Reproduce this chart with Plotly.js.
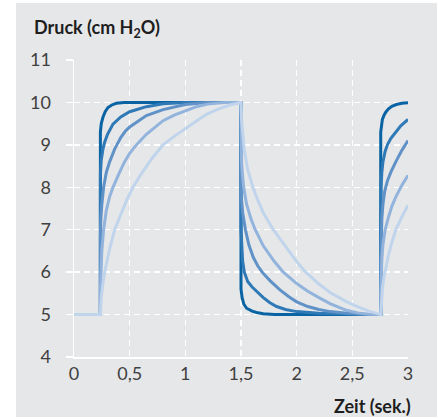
<!DOCTYPE html>
<html>
<head>
<meta charset="utf-8">
<script src="https://cdn.plot.ly/plotly-3.0.1.min.js"></script>
<style>
  html, body { margin: 0; padding: 0; background: #ffffff; }
  #chart { position: absolute; left: 16px; top: 3px; width: 421px; height: 414px; }
</style>
</head>
<body>
<div id="chart"></div>
<script>
// Time (s) and pressure (cm H2O), one pair of arrays per curve
var t1 = [0, 0.237, 0.237, 0.245, 0.26, 0.28, 0.305, 0.34, 0.38, 0.45, 1.5,
          1.5, 1.51, 1.525, 1.55, 1.6, 1.64, 1.7, 1.8, 2.755,
          2.755, 2.76, 2.77, 2.785, 2.8, 2.825, 2.855, 2.895, 2.945, 3.0];
var p1 = [5, 5, 9.3, 9.5, 9.65, 9.78, 9.88, 9.94, 9.98, 10, 10,
          5.6, 5.4, 5.25, 5.15, 5.08, 5.05, 5.02, 5.0, 5.0,
          9.3, 9.45, 9.6, 9.7, 9.77, 9.85, 9.91, 9.95, 9.98, 9.99];

var t2 = [0, 0.237, 0.237, 0.245, 0.26, 0.275, 0.3, 0.35, 0.42, 0.5, 0.65, 0.8, 1.0, 1.5,
          1.5, 1.505, 1.515, 1.53, 1.56, 1.6, 1.64, 1.7, 1.76, 1.82, 1.9, 2.0, 2.2, 2.4, 2.6, 2.755,
          2.755, 2.758, 2.765, 2.775, 2.795, 2.815, 2.845, 2.89, 2.935, 3.0];
var p2 = [5, 5, 8.3, 8.65, 8.9, 9.06, 9.24, 9.49, 9.66, 9.78, 9.9, 9.97, 10, 10,
          7.0, 6.6, 6.25, 6.0, 5.78, 5.65, 5.55, 5.4, 5.28, 5.19, 5.12, 5.07, 5.03, 5.01, 5.0, 5.0,
          7.6, 8.0, 8.35, 8.6, 8.85, 9.0, 9.15, 9.3, 9.45, 9.6];

var t3 = [0, 0.237, 0.237, 0.24, 0.25, 0.266, 0.29, 0.32, 0.365, 0.42, 0.46, 0.5, 0.65, 0.8, 1.0, 1.19, 1.5,
          1.5, 1.505, 1.515, 1.54, 1.57, 1.61, 1.65, 1.69, 1.76, 1.85, 1.93, 2.0, 2.1, 2.2, 2.3, 2.45, 2.6, 2.755,
          2.755, 2.758, 2.765, 2.775, 2.79, 2.815, 2.845, 2.89, 2.945, 3.0];
var p3 = [5, 5, 6.8, 7.2, 7.6, 8.0, 8.35, 8.6, 8.9, 9.17, 9.32, 9.42, 9.69, 9.83, 9.95, 10, 10,
          8.0, 7.7, 7.4, 7.0, 6.65, 6.35, 6.15, 6.0, 5.8, 5.58, 5.42, 5.3, 5.19, 5.12, 5.07, 5.03, 5.01, 5.0,
          6.3, 6.8, 7.25, 7.6, 7.9, 8.15, 8.35, 8.6, 8.87, 9.1];

var t4 = [0, 0.237, 0.237, 0.24, 0.25, 0.266, 0.29, 0.32, 0.35, 0.4, 0.45, 0.5, 0.56, 0.65, 0.8, 0.9, 1.0, 1.1, 1.2, 1.35, 1.5,
          1.5, 1.505, 1.513, 1.524, 1.55, 1.59, 1.628, 1.7, 1.8, 1.88, 2.0, 2.1, 2.2, 2.3, 2.446, 2.55, 2.65, 2.755,
          2.755, 2.758, 2.765, 2.775, 2.795, 2.825, 2.855, 2.89, 2.945, 3.0];
var p4 = [5, 5, 5.6, 6.0, 6.5, 7.0, 7.45, 7.78, 8.0, 8.3, 8.58, 8.8, 9.0, 9.25, 9.57, 9.7, 9.8, 9.9, 9.96, 10, 10,
          9.0, 8.6, 8.3, 8.0, 7.6, 7.25, 7.0, 6.62, 6.25, 6.0, 5.73, 5.55, 5.4, 5.26, 5.1, 5.04, 5.01, 5.0,
          5.5, 5.9, 6.3, 6.65, 7.0, 7.3, 7.55, 7.77, 8.05, 8.28];

var t5 = [0, 0.237, 0.245, 0.26, 0.285, 0.32, 0.365, 0.42, 0.47, 0.53, 0.6, 0.7, 0.8, 0.9, 1.0, 1.1, 1.19, 1.3, 1.4, 1.5,
          1.505, 1.515, 1.53, 1.56, 1.607, 1.65, 1.7, 1.79, 1.9, 2.0, 2.07, 2.2, 2.3, 2.45, 2.55, 2.65, 2.755,
          2.755, 2.76, 2.77, 2.785, 2.8, 2.825, 2.855, 2.89, 2.945, 3.0];
var p5 = [5, 5, 5.4, 5.75, 6.12, 6.55, 7.0, 7.38, 7.68, 8.0, 8.3, 8.68, 9.0, 9.2, 9.37, 9.56, 9.72, 9.85, 9.94, 10,
          9.6, 9.25, 8.86, 8.42, 8.0, 7.7, 7.4, 7.0, 6.6, 6.25, 6.03, 5.72, 5.52, 5.3, 5.18, 5.08, 5.0,
          5.0, 5.3, 5.6, 5.9, 6.1, 6.4, 6.7, 7.0, 7.3, 7.58];

var xTicks = [0, 0.5, 1, 1.5, 2, 2.5, 3];
var xTickText = ['0', '0,5', '1', '1,5', '2', '2,5', '3'];
var yTicks = [4, 5, 6, 7, 8, 9, 10, 11];

var times = [t1, t2, t3, t4, t5];
var pressures = [p1, p2, p3, p4, p5];
var colors = ['#0a64a4', '#2f79b6', '#6092c8', '#91b3dc', '#c0d4ec'];

var traces = times.map(function (t, i) {
  return {
    x: t, y: pressures[i], type: 'scatter', mode: 'lines',
    line: { color: colors[i], width: 3, shape: 'linear' },
    hoverinfo: 'skip', showlegend: false
  };
});

var tickFont = { family: 'Lato, sans-serif', size: 18, color: '#404040' };
var titleFont = { family: 'Lato, sans-serif', size: 18, color: '#1e1e1e' };

var layout = {
  width: 421, height: 414,
  margin: { l: 58, r: 29, t: 57, b: 60, pad: 0 },
  paper_bgcolor: '#e6e7e9',
  plot_bgcolor: '#e6e7e9',
  showlegend: false,
  xaxis: {
    range: [0, 3], tickvals: xTicks, ticktext: xTickText,
    showgrid: true, gridcolor: '#ffffff', gridwidth: 1.5, griddash: '6px,4px',
    zeroline: false, showline: true, linecolor: '#ffffff', linewidth: 1.5,
    ticks: '', tickfont: tickFont, ticklabelstandoff: 0, layer: 'below traces',
    fixedrange: true
  },
  yaxis: {
    range: [4, 11], tickvals: yTicks,
    showgrid: true, gridcolor: '#ffffff', gridwidth: 1.5, griddash: '6px,4px',
    zeroline: false, showline: true, linecolor: '#ffffff', linewidth: 1.5,
    ticks: 'outside', ticklen: 7, tickwidth: 1.5, tickcolor: '#ffffff',
    tickfont: tickFont, ticklabelstandoff: 11, layer: 'below traces',
    fixedrange: true
  },
  annotations: [
    {
      text: '<b>Druck (cm H<sub>2</sub>O)</b>', xref: 'paper', yref: 'paper',
      x: 0, y: 1, xanchor: 'left', yanchor: 'middle', xshift: -42, yshift: 32,
      showarrow: false, font: titleFont
    },
    {
      text: '<b>Zeit (sek.)</b>', xref: 'paper', yref: 'paper',
      x: 1, y: 0, xanchor: 'right', yanchor: 'middle', xshift: 5, yshift: -49,
      showarrow: false, font: titleFont
    }
  ]
};

Plotly.newPlot('chart', traces, layout, { displayModeBar: false, staticPlot: true });
</script>
</body>
</html>
